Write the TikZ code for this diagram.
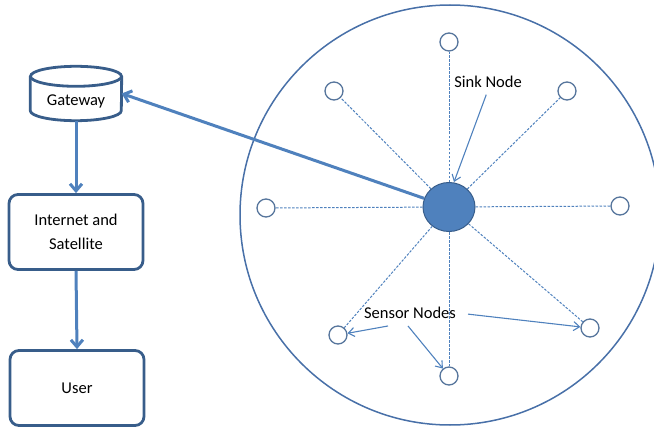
\documentclass[tikz,border=0pt]{standalone}
\usepackage{fontspec}
\setmainfont{Carlito}
\usepackage{xcolor}
\definecolor{wsnblue}{RGB}{79, 129, 189}
\definecolor{wsndark}{RGB}{56, 93, 138}
\definecolor{wsnring}{RGB}{72, 112, 168}
\usetikzlibrary{arrows.meta, shapes.geometric, positioning}

\begin{document}
\begin{tikzpicture}[x=1pt, y=-1pt, >={Straight Barb[length=7pt, width=12pt]},
  lbl/.style={font=\fontsize{16.5}{24}\selectfont, inner sep=2pt},
  box/.style={lbl, draw=wsndark, line width=2.8pt, rounded corners=9pt,
    minimum width=134pt, minimum height=75pt, align=center},
  sensor/.style={circle, draw=wsndark!85, line width=1.3pt, fill=white,
    minimum size=18pt, inner sep=0pt},
  link/.style={wsnblue, line width=1pt, dash pattern=on 2.5pt off 1.5pt},
  flow/.style={->, wsnblue, line width=3pt},
  hint/.style={->, >={Straight Barb[length=6pt, width=9pt]}, wsnblue, line width=1.1pt}]

\useasboundingbox (0,0) rectangle (654,428);

% === Lado izquierdo: gateway, red, usuario ===
\node[lbl, minimum width=91pt, minimum height=54pt] (gw) at (76,93.5)
  {\raisebox{-12pt}[0pt][0pt]{Gateway}};
% cilindro del gateway
\draw[wsndark, line width=2.8pt]
  ([yshift=-10pt]gw.north west) -- ([yshift=10pt]gw.south west)
  arc (180:360:45.5pt and 10pt) -- ([yshift=-10pt]gw.north east);
\draw[wsndark, line width=2.8pt] ([yshift=-10pt]gw.north) ellipse (45.5pt and 10pt);

\node[box] (net) at (76,232) {Internet and\\Satellite};
\node[box] (usr) at (77,388) {User};

\draw[flow] (gw.south) -- (net.north);
\draw[flow] (net.south) -- (usr.north);

% === Campo de sensores ===
\draw[wsnring, line width=1.5pt] (450,215) circle (210);

\node[ellipse, fill=wsnblue, draw=wsndark, line width=1pt,
  minimum width=52pt, minimum height=49pt] (sink) at (449,207) {};

\node[sensor] (s1) at (449,42) {};
\node[sensor] (s2) at (567,91) {};
\node[sensor] (s3) at (620,206) {};
\node[sensor] (s4) at (590,328) {};
\node[sensor] (s5) at (449,376) {};
\node[sensor] (s6) at (338,335) {};
\node[sensor] (s7) at (266,208) {};
\node[sensor] (s8) at (334,91) {};

\foreach \s in {s1,s2,s3,s4,s5,s6,s7,s8}
  \draw[link] (sink) -- (\s);

% sink -> gateway
\draw[flow] (sink) -- (gw.east);

% === Etiquetas ===
\node[lbl] (snklbl) at (488,82) {Sink Node};
\draw[hint, shorten <=5pt] (snklbl.south) -- ([xshift=5pt]sink.north);

\node[lbl] (snslbl) at (410,313) {Sensor Nodes};
\draw[hint] ([xshift=-22pt, yshift=-5pt]snslbl.south) -- (s6);
\draw[hint] ([xshift=-2pt, yshift=-5pt]snslbl.south) -- (s5);
\draw[hint, shorten <=10pt] (snslbl.east) -- (s4);

\end{tikzpicture}
\end{document}
